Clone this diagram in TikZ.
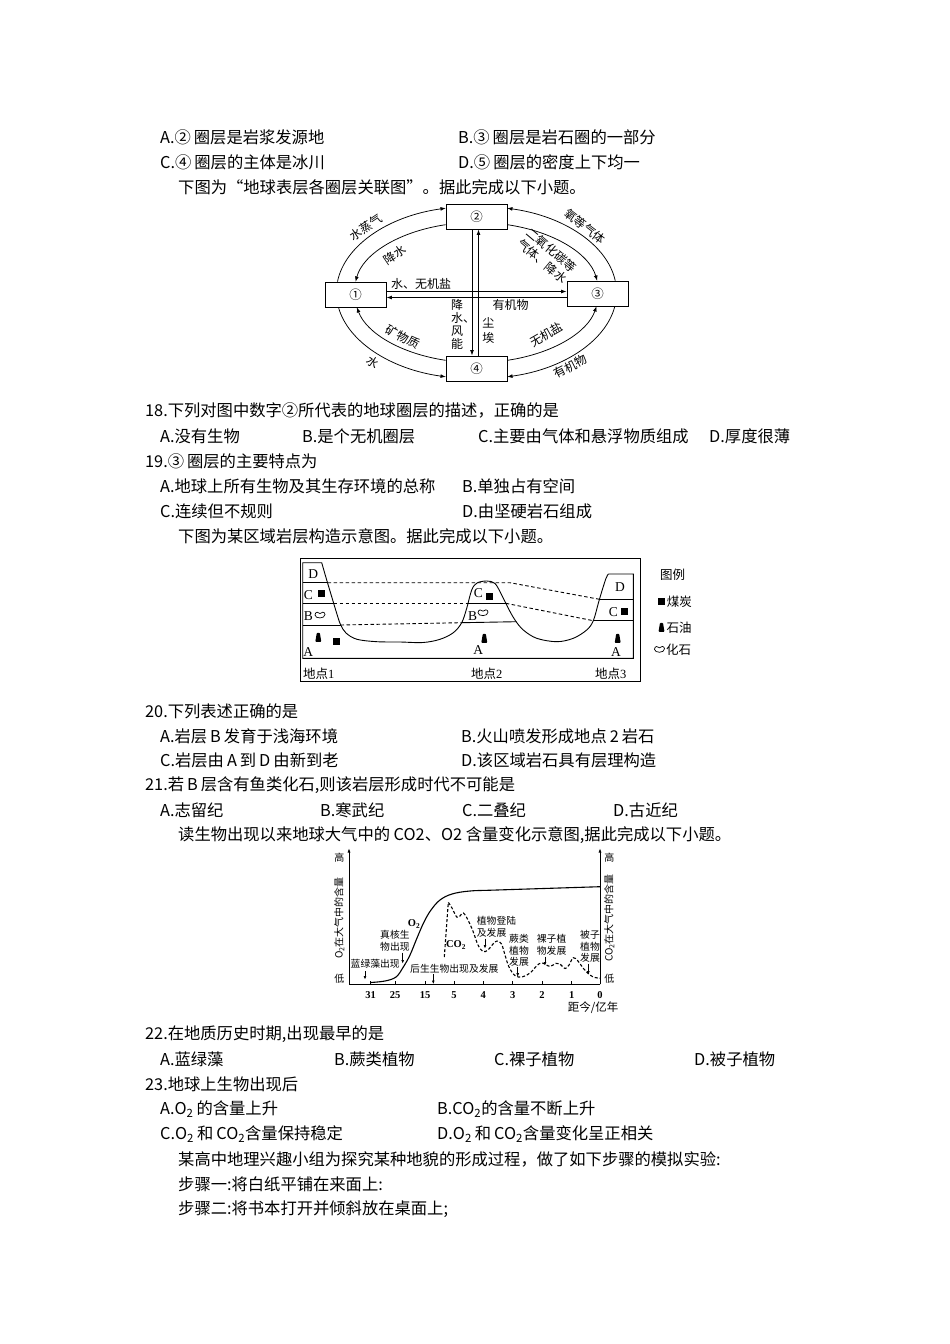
\documentclass[tikz,border=0pt]{standalone}
\usepackage{fontspec}
\setmainfont{Noto Sans CJK SC}
\newfontfamily\rmlat{Liberation Serif}
\usetikzlibrary{calc,positioning,arrows.meta}
\tikzset{
	qtext/.style={anchor=west, inner sep=0, font=\fontsize{16.3}{19}\selectfont},
	sphere/.style={draw, line width=0.8pt, minimum width=61pt, minimum height=25pt,
		inner sep=0, font=\fontsize{12.5}{14}\selectfont},
	flow/.style={line width=0.75pt, -{Latex[length=5.5pt,width=3.8pt]}},
	flowtext/.style={inner sep=0, font=\fontsize{12}{13}\selectfont},
	stratum/.style={line width=0.9pt},
	guessed/.style={line width=0.9pt, dash pattern=on 3.5pt off 2.5pt},
	letter/.style={inner sep=0, font=\rmlat\fontsize{13.5}{14}\selectfont},
	coal/.style={fill=black, minimum size=7pt, inner sep=0},
	keytext/.style={anchor=west, inner sep=0, font=\fontsize{12.5}{14}\selectfont},
	chartaxis/.style={line width=0.9pt},
	axistip/.style={chartaxis, -{Latex[length=4.5pt,width=3pt]}},
	chartnote/.style={anchor=west, inner sep=0, align=left, font=\fontsize{9.8}{11.5}\selectfont},
	pointer/.style={line width=0.6pt, -{Latex[length=3.5pt,width=2.8pt]}},
	ticknum/.style={inner sep=0, font=\rmlat\bfseries\fontsize{10.5}{12}\selectfont},
	oil/.pic={\fill[rounded corners=0.8pt] (-1.5,-4.5) -- (1.5,-4.5) -- (3,4.5) -- (-3,4.5) -- cycle;},
	fossil/.pic={\draw[line width=0.7pt] (-5,0) .. controls (-5,4) and (5,4) .. (5,-0.5)
		.. controls (5,-3.5) and (1,-3.5) .. (0,-1.5) .. controls (-1,-3.5) and (-5,-3.5) .. (-5,0);}
}
\newcommand{\lgap}{\hspace{3pt}}

\begin{document}
\begin{tikzpicture}[x=1pt, y=-1pt]
\fill[white, use as bounding box] (0,0) rectangle (950,1344);

\node[qtext] (l1a) at (160,137) {A.②\lgap 圈层是岩浆发源地};
\node[qtext] (l1b) at (458,137) {B.③\lgap 圈层是岩石圈的一部分};
\node[qtext] (l2a) at (160,162) {C.④\lgap 圈层的主体是冰川};
\node[qtext] (l2b) at (458,162) {D.⑤\lgap 圈层的密度上下均一};
\node[qtext] (intro1) at (178,187) {下图为“地球表层各圈层关联图”。据此完成以下小题。};

\node[sphere] (s1) at (355.5,294.5) {①};
\node[sphere] (s2) at (476.5,216.5) {②};
\node[sphere] (s3) at (597.5,293.5) {③};
\node[sphere] (s4) at (476.5,368.5) {④};
\draw[flow] ([xshift=-18pt]s1.north) arc[start angle=173, end angle=102.58, x radius=140pt, y radius=86pt];
\draw[flow] ([xshift=17.7pt]s3.north) arc[start angle=7.69, end angle=77.42, x radius=140pt, y radius=86pt];
\draw[flow] ([xshift=-17pt]s1.south) arc[start angle=189.71, end angle=257.42, x radius=140pt, y radius=86pt];
\draw[flow] ([xshift=17.3pt]s3.south) arc[start angle=-9.03, end angle=-77.42, x radius=140pt, y radius=86pt];
\draw[flow] ([yshift=-8.2pt]s2.west) arc[start angle=104.48, end angle=171.37, x radius=122pt, y radius=70pt];
\draw[flow] ([yshift=-8.2pt]s2.east) arc[start angle=75.52, end angle=9.46, x radius=122pt, y radius=70pt];
\draw[flow] ([yshift=8.2pt]s4.west) arc[start angle=255.52, end angle=191.95, x radius=122pt, y radius=70pt];
\draw[flow] ([yshift=8.2pt]s4.east) arc[start angle=284.48, end angle=348.88, x radius=122pt, y radius=70pt];
\draw[flow] ([yshift=3pt]s1.east) -- ([yshift=3pt]s1.east -| s3.west);
\draw[flow] ([yshift=-3pt]s1.east -| s3.west) -- ([yshift=-3pt]s1.east);
\draw[flow] ([xshift=-4.5pt]s2.south) -- ([xshift=-4.5pt]s2.south |- s4.north);
\draw[flow] ([xshift=2pt]s4.north) -- ([xshift=2pt]s4.north |- s2.south);
\node[flowtext, rotate=34] (vap) at (366,227.5) {水蒸气};
\node[flowtext, rotate=34] (rain1) at (394.5,255) {降水};
\node[flowtext, rotate=-37] (oxy) at (585,226.5) {氧等气体};
\node[flowtext, rotate=-40, align=center, font=\fontsize{12}{14.5}\selectfont] (co2) at (547,255.5) {二氧化碳等\\气体、降水};
\node[flowtext] (salt1) at (421,283.5) {水、无机盐};
\node[flowtext] (org1) at (510.5,304.5) {有机物};
\node[flowtext, align=left, anchor=north west] (wind) at (451,299) {降\\水、\\风\\能};
\node[flowtext, align=center, font=\fontsize{12}{15}\selectfont] (dust) at (488.3,331) {尘\\埃};
\node[flowtext, rotate=-28] (mine) at (403,337) {矿物质};
\node[flowtext, rotate=-35] (water) at (373,362.5) {水};
\node[flowtext, rotate=30] (salt2) at (546.5,334.5) {无机盐};
\node[flowtext, rotate=27] (org2) at (570.5,366.5) {有机物};

\node[qtext] (q18) at (145,410) {18.下列对图中数字②所代表的地球圈层的描述，正确的是};
\node[qtext] (q18a) at (160,436) {A.没有生物};
\node[qtext] (q18b) at (302,436) {B.是个无机圈层};
\node[qtext] (q18c) at (478,436) {C.主要由气体和悬浮物质组成};
\node[qtext] (q18d) at (709,436) {D.厚度很薄};
\node[qtext] (q19) at (145,461) {19.③\lgap 圈层的主要特点为};
\node[qtext] (q19a) at (160,486) {A.地球上所有生物及其生存环境的总称};
\node[qtext] (q19b) at (462,486) {B.单独占有空间};
\node[qtext] (q19c) at (160,511) {C.连续但不规则};
\node[qtext] (q19d) at (462,511) {D.由坚硬岩石组成};
\node[qtext] (intro2) at (178,536) {下图为某区域岩层构造示意图。据此完成以下小题。};

\draw[stratum] (300,558.3) rectangle (640,681.7);
\draw[stratum] (608.3,574) -- (633.3,574) -- (633.3,658.3) -- (302.7,658.3) -- (302.7,562.7)
	-- plot[smooth, tension=0.55] coordinates {(321.7,562.7) (326.7,580) (331.7,596.7) (336.7,613.3)
	(340.5,624.5) (346,633) (357,639.3) (377,641.7) (400,642) (423,642.5) (440,639.3) (453.3,632.7)
	(461.7,622.7) (466.7,608.3) (471.7,590) (477,583) (486.7,581) (495,583.5) (501.7,595) (508.3,608.3)
	(515,620) (523.3,630) (536.7,638.3) (556.7,641.7) (573.3,638.3) (586.7,630) (593.3,620.7)
	(598.3,603.3) (601.7,591.7) (606,578.3) (608.3,574)};
\draw[stratum] (302.7,582.7) -- (327.5,582.7);
\draw[stratum] (302.7,603.3) -- (333.7,603.3);
\draw[stratum] (302.7,625) -- (340.5,625);
\draw[stratum] (468,603.3) -- (505.8,603.3);
\draw[stratum] (461.7,622.7) -- (516.4,621.7);
\draw[stratum] (599.5,599.3) -- (633.3,599.3);
\draw[stratum] (593.3,620.7) -- (633.3,620.7);
\draw[guessed] (327.5,582.7) -- (510,582.7) -- (599.5,599.3);
\draw[guessed] (333.7,603.3) -- (468,603.3);
\draw[guessed] (505.8,603.3) -- (593.3,620.7);
\draw[guessed] (340.5,625) -- (461.7,622.7);
\node[letter] (d1) at (313.3,574) {D};
\node[letter] (c1) at (308.3,595) {C};
\node[coal] (coal1) at (321.7,593.3) {};
\node[letter] (b1) at (308.3,616) {B};
\pic at (320,615) {fossil};
\pic at (318.3,637.3) {oil};
\node[coal] (coal1b) at (336.7,641.7) {};
\node[letter] (a1) at (308.3,651.7) {A};
\node[letter] (c2) at (478.3,592.7) {C};
\node[coal] (coal2) at (489.3,596) {};
\node[letter] (b2) at (472.7,616) {B};
\pic at (483,612.7) {fossil};
\pic at (484.3,638.3) {oil};
\node[letter] (a2) at (478.3,650) {A};
\node[letter] (d3) at (620,587.3) {D};
\node[letter] (c3) at (613.3,611.7) {C};
\node[coal] (coal3) at (624.3,611.7) {};
\pic at (617.7,638.3) {oil};
\node[letter] (a3) at (616,651.7) {A};
\node[keytext] (site1) at (303,673.3) {地点\rmlat 1};
\node[keytext] (site2) at (471,673.3) {地点\rmlat 2};
\node[keytext] (site3) at (595,673.3) {地点\rmlat 3};
\node[keytext] (key) at (660,575) {图例};
\node[coal] (keycoal) at (661.5,601.7) {};
\node[keytext, right=1.5pt of keycoal] (keycoaltxt) {煤炭};
\pic at (661.5,627.3) {oil};
\node[keytext] (keyoiltxt) at (666.5,627.3) {石油};
\pic at (659.5,649.3) {fossil};
\node[keytext] (keyfossiltxt) at (666,649.3) {化石};

\node[qtext] (q20) at (145,711) {20.下列表述正确的是};
\node[qtext] (q20a) at (160,736) {A.岩层\lgap B\lgap 发育于浅海环境};
\node[qtext] (q20b) at (461,736) {B.火山喷发形成地点\lgap 2\lgap 岩石};
\node[qtext] (q20c) at (160,760) {C.岩层由\lgap A\lgap 到\lgap D\lgap 由新到老};
\node[qtext] (q20d) at (461,760) {D.该区域岩石具有层理构造};
\node[qtext] (q21) at (145,785) {21.若\lgap B\lgap 层含有鱼类化石,则该岩层形成时代不可能是};
\node[qtext] (q21a) at (160,810) {A.志留纪};
\node[qtext] (q21b) at (320,810) {B.寒武纪};
\node[qtext] (q21c) at (462,810) {C.二叠纪};
\node[qtext] (q21d) at (613,810) {D.古近纪};
\node[qtext] (intro3) at (178,835) {读生物出现以来地球大气中的 CO2、O2 含量变化示意图,据此完成以下小题。};

\draw[chartaxis] (349,984.3) -- (600,984.3);
\draw[axistip] (349,984.3) -- (349,848);
\draw[axistip] (600,984.3) -- (600,848);
\foreach \x/\lab in {370.7/31,395/25,425/15,454/5,483.3/4,512.7/3,542/2,571.7/1,600/0}{
	\draw[chartaxis] (\x,984.3) -- (\x,981);
	\node[ticknum] (tk\lab) at (\x,995.5) {\lab};
}
\node[inner sep=0, font=\fontsize{11.5}{13}\selectfont] (age) at (593,1008) {距今/亿年};
\node[inner sep=0, font=\fontsize{10}{12}\selectfont] (hiL) at (339.3,857.7) {高};
\node[inner sep=0, font=\fontsize{10}{12}\selectfont] (loL) at (339.3,978.3) {低};
\node[inner sep=0, font=\fontsize{10}{12}\selectfont] (hiR) at (609.3,857.7) {高};
\node[inner sep=0, font=\fontsize{10}{12}\selectfont] (loR) at (609.3,978.3) {低};
\node[inner sep=0, rotate=90, font=\fontsize{10}{12}\selectfont] (ylabL) at (339.3,918) {O\textsubscript{2}在大气中的含量};
\node[inner sep=0, rotate=90, font=\fontsize{10}{12}\selectfont] (ylabR) at (609.3,918) {CO\textsubscript{2}在大气中的含量};
\draw[line width=1.1pt] plot[smooth, tension=0.6] coordinates {(370.7,982.5) (385,981) (396,977)
	(403,967.5) (410,955) (417,938) (424,922) (431,910) (440,900) (452,894) (470,891) (497,890) (600,886.7)};
\draw[line width=1.1pt, dash pattern=on 3pt off 2pt] (444.3,957) -- plot[smooth, tension=0.6] coordinates {
	(448.3,902.3) (452,908) (456.7,917) (460,916) (463.3,913) (468,920) (473.3,932) (478,945) (483,951.5)
	(488,950) (493,944) (497,941) (501.5,944) (505,955) (509,967) (515,975.5) (522,977) (530,973)
	(537,965.5) (541,963) (545,964) (550,966.5) (556,963.3) (560,964) (565,968.5) (569,965) (573.3,957.7)
	(578,961) (583.3,968.3) (590,975) (595,977.5) (600,978.3)};
\node[inner sep=0, font=\rmlat\bfseries\fontsize{10.5}{12}\selectfont] (o2) at (414,924) {O\textsubscript{2}};
\node[inner sep=0, font=\rmlat\bfseries\fontsize{10.5}{12}\selectfont] (co2c) at (456,945) {CO\textsubscript{2}};
\node[chartnote] (lan) at (350.5,963.3) {蓝绿藻出现};
\node[chartnote] (zhen) at (380,941) {真核生\\物出现};
\node[chartnote] (hou) at (410,968.3) {后生生物出现及发展};
\node[chartnote] (land) at (476.7,927) {植物登陆\\及发展};
\node[chartnote] (fern) at (509,950.5) {蕨类\\植物\\发展};
\node[chartnote] (gym) at (536.7,945) {裸子植\\物发展};
\node[chartnote] (ang) at (580,946.5) {被子\\植物\\发展};
\draw[pointer] ([xshift=14.5pt,yshift=-3pt]lan.south west) -- ++(0,8.5);
\draw[pointer] ([xshift=22.7pt,yshift=-1pt]zhen.south west) -- ++(0,11);
\draw[pointer] ([xshift=23.3pt,yshift=-1pt]hou.south west) -- ++(0,10);
\draw[pointer] ([xshift=8.3pt,yshift=-1pt]land.south west) -- ++(0,10);
\draw[pointer] ([xshift=8.7pt]fern.south west) -- ++(0,10);
\draw[pointer] ([xshift=8.3pt,yshift=-1pt]gym.south west) -- ++(0,9);
\draw[pointer] ([xshift=8.3pt,yshift=-1pt]ang.south west) -- ++(0,11);

\node[qtext] (q22) at (145,1034) {22.在地质历史时期,出现最早的是};
\node[qtext] (q22a) at (160,1059) {A.蓝绿藻};
\node[qtext] (q22b) at (334,1059) {B.蕨类植物};
\node[qtext] (q22c) at (494,1059) {C.裸子植物};
\node[qtext] (q22d) at (694,1059) {D.被子植物};
\node[qtext] (q23) at (145,1084) {23.地球上生物出现后};
\node[qtext] (q23a) at (160,1109) {A.O\textsubscript{2}\lgap 的含量上升};
\node[qtext] (q23b) at (437,1109) {B.CO\textsubscript{2}的含量不断上升};
\node[qtext] (q23c) at (160,1134) {C.O\textsubscript{2}\lgap 和\lgap CO\textsubscript{2}含量保持稳定};
\node[qtext] (q23d) at (437,1134) {D.O\textsubscript{2}\lgap 和\lgap CO\textsubscript{2}含量变化呈正相关};
\node[qtext] (intro4) at (178,1159) {某高中地理兴趣小组为探究某种地貌的形成过程，做了如下步骤的模拟实验:};
\node[qtext] (step1) at (178,1184) {步骤一:将白纸平铺在来面上:};
\node[qtext] (step2) at (178,1209) {步骤二:将书本打开并倾斜放在桌面上;};
\end{tikzpicture}
\end{document}
